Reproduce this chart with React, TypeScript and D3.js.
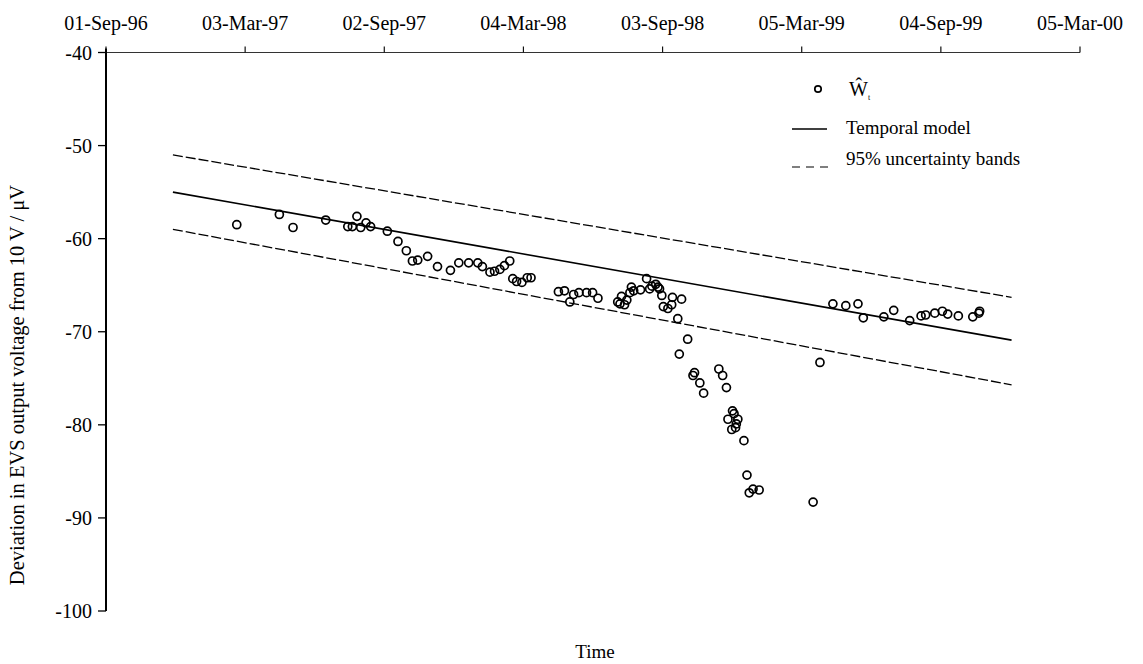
import React, { useEffect, useRef } from "react";
import * as d3 from "d3";

const obsDates = [
  "1997-02-20", "1997-04-17", "1997-05-05", "1997-06-17", "1997-07-16", "1997-07-22", "1997-07-28",
  "1997-08-02", "1997-08-09", "1997-08-15", "1997-09-06", "1997-09-20", "1997-10-01", "1997-10-09",
  "1997-10-16", "1997-10-29", "1997-11-11", "1997-11-28", "1997-12-09", "1997-12-22", "1998-01-03",
  "1998-01-09", "1998-01-19", "1998-01-25", "1998-02-01", "1998-02-07", "1998-02-14", "1998-02-18",
  "1998-02-23", "1998-03-02", "1998-03-09", "1998-03-14", "1998-04-19", "1998-04-27", "1998-05-04",
  "1998-05-09", "1998-05-16", "1998-05-26", "1998-06-03", "1998-06-10", "1998-07-06", "1998-07-09",
  "1998-07-11", "1998-07-15", "1998-07-18", "1998-07-22", "1998-07-24", "1998-07-27", "1998-08-05",
  "1998-08-13", "1998-08-17", "1998-08-20", "1998-08-25", "1998-08-28", "1998-08-30", "1998-09-02",
  "1998-09-04", "1998-09-10", "1998-09-15", "1998-09-16", "1998-09-23", "1998-09-28", "1998-09-25",
  "1998-10-06", "1998-10-13", "1998-10-15", "1998-10-22", "1998-10-27", "1998-11-16", "1998-11-21",
  "1998-11-26", "1998-11-28", "1998-12-03", "1998-12-04", "1998-12-06", "1998-12-08", "1998-12-09",
  "1998-12-11", "1998-12-19", "1998-12-23", "1998-12-26", "1998-12-31", "1999-01-08", "1999-03-20",
  "1999-03-29", "1999-04-15", "1999-05-02", "1999-05-18", "1999-05-25", "1999-06-21", "1999-07-04",
  "1999-07-25", "1999-08-09", "1999-08-15", "1999-08-27", "1999-09-06", "1999-09-13", "1999-09-27",
  "1999-10-16", "1999-10-24", "1999-10-25",
];
const obsValues = [
  -58.5, -57.4, -58.8, -58.0, -58.7, -58.7, -57.6,
  -58.8, -58.3, -58.7, -59.2, -60.3, -61.3, -62.4,
  -62.3, -61.9, -63.0, -63.4, -62.6, -62.6, -62.6,
  -63.0, -63.6, -63.5, -63.3, -62.9, -62.4, -64.3,
  -64.6, -64.7, -64.2, -64.2, -65.7, -65.6, -66.8,
  -66.0, -65.8, -65.8, -65.8, -66.4, -66.8, -67.0,
  -66.2, -67.1, -66.6, -65.8, -65.2, -65.6, -65.5,
  -64.3, -65.4, -65.1, -64.9, -65.2, -65.4, -66.1,
  -67.3, -67.5, -67.1, -66.3, -68.6, -66.5, -72.4,
  -70.8, -74.7, -74.4, -75.5, -76.6, -74.0, -74.7,
  -76.0, -79.4, -80.5, -78.5, -78.8, -80.3, -79.9,
  -79.4, -81.7, -85.4, -87.3, -86.9, -87.0, -88.3,
  -73.3, -67.0, -67.2, -67.0, -68.5, -68.4, -67.7,
  -68.8, -68.3, -68.2, -68.0, -67.8, -68.1, -68.3,
  -68.4, -68.0, -67.8,
];

// temporal model and its 95% bands (straight lines, two end points each)
const modelDates = ["1996-11-28", "1999-12-06"];
const modelValues = [-55.0, -70.9];
const upperValues = [-51.0, -66.3];
const lowerValues = [-59.0, -75.7];

const yTicks = [-40, -50, -60, -70, -80, -90, -100];
const xTickStart = "1996-09-01";
const xTickStepDays = 183;
const xTickCount = 8;

const legendLabels = ["Temporal model", "95% uncertainty bands"];

function App() {
  const ref = useRef(null);

  useEffect(() => {
    drawChart();
  }, []);

  function drawChart() {
    const parse = d3.timeParse("%Y-%m-%d");
    const fmt = d3.timeFormat("%d-%b-%y");
    const width = 1143;
    const height = 664;
    const font = "'Liberation Serif', 'Times New Roman', serif";

    d3.select(ref.current).select("svg").remove();
    const svg = d3
      .select(ref.current)
      .append("svg")
      .attr("width", width)
      .attr("height", height)
      .style("display", "block")
      .style("background", "#fff");

    const t0 = parse(xTickStart);
    const xTicks = d3.range(xTickCount).map((i) => d3.timeDay.offset(t0, i * xTickStepDays));

    const x = d3.scaleTime().domain([xTicks[0], xTicks[xTicks.length - 1]]).range([106, 1080]);
    const y = d3.scaleLinear().domain([-40, -100]).range([52.5, 611]);

    // top date axis
    svg.append("line")
      .attr("x1", x.range()[0]).attr("x2", x.range()[1])
      .attr("y1", y(-40)).attr("y2", y(-40))
      .attr("stroke", "#333").attr("stroke-width", 1.2);
    svg.selectAll(".xt").data(xTicks).enter().append("line")
      .attr("x1", (d) => x(d)).attr("x2", (d) => x(d))
      .attr("y1", y(-40)).attr("y2", y(-40) - 6)
      .attr("stroke", "#111").attr("stroke-width", 1.2);
    svg.selectAll(".xl").data(xTicks).enter().append("text")
      .attr("x", (d) => x(d)).attr("y", 30)
      .attr("text-anchor", "middle")
      .style("font-family", font).style("font-size", "20px")
      .text((d) => fmt(d));

    // left value axis
    svg.append("line")
      .attr("x1", 106).attr("x2", 106)
      .attr("y1", y(-40) - 4).attr("y2", y(-100))
      .attr("stroke", "#000").attr("stroke-width", 2);
    svg.selectAll(".yt").data(yTicks).enter().append("line")
      .attr("x1", 98).attr("x2", 106)
      .attr("y1", (d) => y(d)).attr("y2", (d) => y(d))
      .attr("stroke", "#000").attr("stroke-width", 1.3);
    svg.selectAll(".yl").data(yTicks).enter().append("text")
      .attr("x", 92).attr("y", (d) => y(d))
      .attr("text-anchor", "end").attr("dominant-baseline", "central")
      .style("font-family", font).style("font-size", "20px")
      .text((d) => d);

    // axis titles
    svg.append("text")
      .attr("transform", `translate(24, 385) rotate(-90)`)
      .attr("text-anchor", "middle")
      .style("font-family", font).style("font-size", "20.5px")
      .text("Deviation in EVS output voltage from 10 V / μV");
    svg.append("text")
      .attr("x", 595).attr("y", 658)
      .attr("text-anchor", "middle")
      .style("font-family", font).style("font-size", "19px")
      .text("Time");

    // model + bands
    const mDates = modelDates.map(parse);
    const line = d3.line().x((d) => x(d[0])).y((d) => y(d[1]));
    const series = [
      { vals: modelValues, dash: null, w: 1.6 },
      { vals: upperValues, dash: "10,3", w: 1.3 },
      { vals: lowerValues, dash: "10,3", w: 1.3 },
    ];
    series.forEach((s) => {
      svg.append("path")
        .attr("d", line(mDates.map((d, i) => [d, s.vals[i]])))
        .attr("fill", "none")
        .attr("stroke", "#000")
        .attr("stroke-width", s.w)
        .attr("stroke-dasharray", s.dash);
    });

    // observations
    svg.selectAll(".pt").data(obsDates.map((d, i) => [parse(d), obsValues[i]])).enter()
      .append("circle")
      .attr("cx", (d) => x(d[0])).attr("cy", (d) => y(d[1]))
      .attr("r", 4)
      .attr("fill", "none").attr("stroke", "#000").attr("stroke-width", 1.7);

    // legend
    const lg = svg.append("g").style("font-family", font).style("font-size", "19px");
    lg.append("circle").attr("cx", 818).attr("cy", 89).attr("r", 3.2)
      .attr("fill", "none").attr("stroke", "#000").attr("stroke-width", 1.7);
    const wt = lg.append("text").attr("x", 849).attr("y", 96).style("font-size", "20px");
    wt.append("tspan").text("Ŵ");
    wt.append("tspan").attr("dy", 4).style("font-size", "8px").text("t");
    lg.append("line").attr("x1", 792).attr("x2", 827).attr("y1", 129).attr("y2", 129)
      .attr("stroke", "#000").attr("stroke-width", 1.4);
    lg.append("line").attr("x1", 792).attr("x2", 828).attr("y1", 167).attr("y2", 167)
      .attr("stroke", "#000").attr("stroke-width", 1.1).attr("stroke-dasharray", "8,6");
    lg.selectAll(".lt").data(legendLabels).enter().append("text")
      .attr("x", 846).attr("y", (d, i) => 134 + i * 31)
      .text((d) => d);
  }

  return <div ref={ref} style={{ position: "absolute", left: 0, top: 0 }} />;
}

export default App;
